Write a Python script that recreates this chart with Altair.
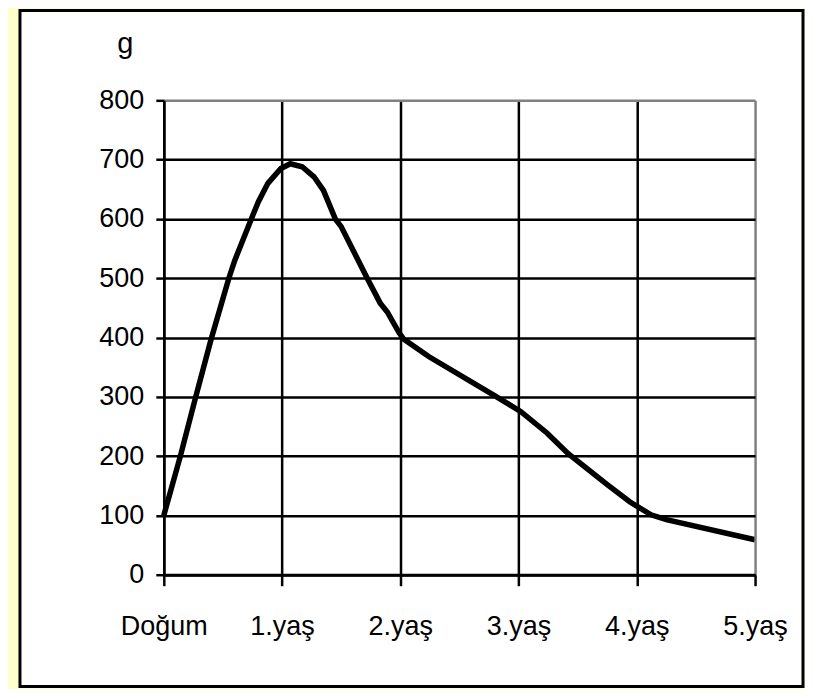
import json
import altair as alt
import pandas as pd

# x positions in years (0 = birth), y in grams
years = [0, 0.14, 0.27, 0.40, 0.55, 0.60, 0.74, 0.80, 0.88, 0.99, 1.07, 1.17, 1.27, 1.35,
         1.45, 1.50, 1.72, 1.83, 1.89, 1.99, 2.03, 2.24, 2.79, 3.02, 3.24, 3.42, 3.75,
         3.94, 4.12, 4.25, 5.0]
grams = [100, 200, 300, 397, 500, 530, 600, 629, 660, 685, 693, 688, 671, 648,
         600, 587, 500, 458, 443, 408, 397, 368, 303, 275, 239, 204, 152,
         123, 101, 93, 59]
x_labels = ["Doğum", "1.yaş", "2.yaş", "3.yaş", "4.yaş", "5.yaş"]
y_ticks = [0, 100, 200, 300, 400, 500, 600, 700, 800]

df = pd.DataFrame({"t": years, "g": grams})
FONT = "Liberation Sans Narrow, Arial Narrow, Liberation Sans, Arial"
FS = 27

label_expr = json.dumps(x_labels, ensure_ascii=False) + "[datum.value]"

box = alt.Chart(pd.DataFrame({"a": [0]})).mark_rect(
    fill="white", stroke="black", strokeWidth=3
).encode(
    x=alt.value(-144), x2=alt.value(640), y=alt.value(-90), y2=alt.value(587)
)

line = alt.Chart(df).mark_line(color="black", strokeWidth=5.5, clip=False).encode(
    x=alt.X("t:Q", scale=alt.Scale(domain=[0, 5], nice=False),
            axis=alt.Axis(values=list(range(6)), labelExpr=label_expr, title=None,
                          grid=True,
                          gridColor={"condition": {"test": "datum.value === 5", "value": "#808080"}, "value": "black"},
                          gridWidth=2.5, domainColor="black", domainWidth=3,
                          tickColor="black", tickWidth=2.5, tickSize=11,
                          labelPadding=28, labelFont=FONT, labelFontSize=FS,
                          labelColor="black", zindex=1, labelFlush=False)),
    y=alt.Y("g:Q", scale=alt.Scale(domain=[0, 800], nice=False),
            axis=alt.Axis(values=y_ticks, title="g", titleAngle=0, titleX=-39, titleY=-48,
                          titleAlign="center", titleBaseline="alphabetic",
                          titleFont=FONT, titleFontSize=FS + 2, titleFontWeight="normal",
                          titleColor="black",
                          grid=True,
                          gridColor={"condition": {"test": "datum.value === 800", "value": "#808080"}, "value": "black"},
                          gridWidth=2.5, domainColor="black", domainWidth=2.5,
                          tickColor="black", tickWidth=2.5, tickSize=8,
                          labelPadding=12, labelFont=FONT, labelFontSize=FS,
                          labelColor="black", zindex=1)),
)

chart = alt.layer(box, line).properties(
    width=592, height=475, background="#FFFFCC",
    padding={"left": 10, "top": 0, "right": 0, "bottom": 0}
).configure_view(stroke=None)

chart.save("out.html", embed_options={"renderer": "svg", "actions": False})
